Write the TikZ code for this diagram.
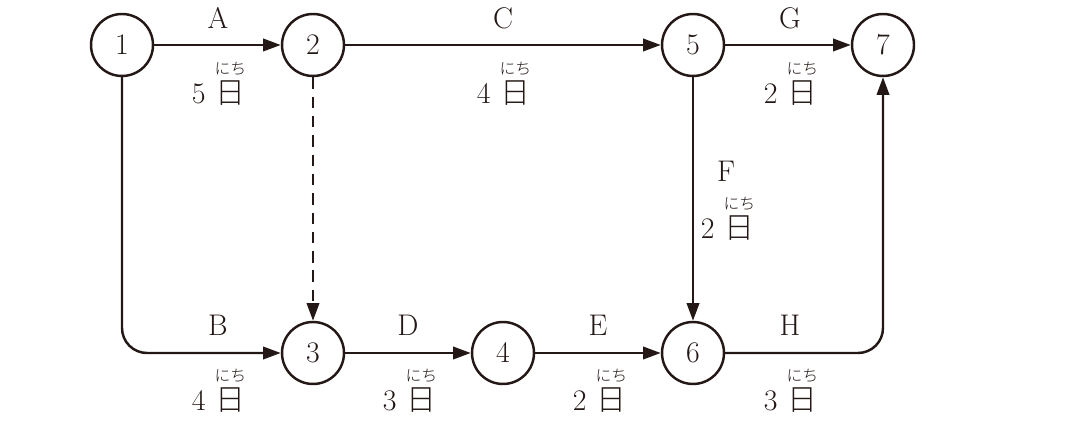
\documentclass[tikz,border=0pt]{standalone}
\usepackage{fontspec}
\newfontfamily\jpfont{Noto Sans CJK JP Light}
\usetikzlibrary{arrows.meta}
\definecolor{ink}{HTML}{231815}
% 日 with its reading above
\newcommand{\nichi}{\begin{tabular}[b]{@{}c@{}}{\jpfont\fontsize{9}{9}\selectfont にち}\\[-3pt]{\jpfont 日}\end{tabular}}
\tikzset{
    evt/.style={circle, draw=ink, line width=1.4pt, minimum size=1.24cm, inner sep=0pt, text=ink},
    act/.style={draw=ink, line width=1.4pt, -{Triangle[length=10pt,width=7pt]}},
    dum/.style={act, dash pattern=on 6.5pt off 4.5pt},
    lbl/.style={text=ink, inner sep=0pt},
    days/.style={lbl, anchor=base},
}
\begin{document}
\begin{tikzpicture}[x=0.02cm, y=-0.02cm, font=\fontsize{17}{20}\selectfont]
    \useasboundingbox (0,0) rectangle (1088,448);

    % 結合点
    \node[evt] (n1) at (122,45) {1};
    \node[evt] (n2) at (313,45) {2};
    \node[evt] (n5) at (693,45) {5};
    \node[evt] (n7) at (883,45) {7};
    \node[evt] (n3) at (313,353) {3};
    \node[evt] (n4) at (503,353) {4};
    \node[evt] (n6) at (693,353) {6};

    % 作業
    \draw[act] (n1) -- (n2);
    \draw[act] (n2) -- (n5);
    \draw[act] (n5) -- (n7);
    \draw[act] (n3) -- (n4);
    \draw[act] (n4) -- (n6);
    \draw[act] (n5) -- (n6);
    \draw[act, rounded corners=0.5cm] (n1) |- (n3);
    \draw[act, rounded corners=0.5cm] (n6) -| (n7);
    \draw[dum] (n2) -- (n3);

    % 作業名と日数
    \node[lbl] (la) at (218,18) {A};
    \node[days] (da) at (219,104) {5 \nichi};
    \node[lbl] (lc) at (503,18) {C};
    \node[days] (dc) at (504,104) {4 \nichi};
    \node[lbl] (lg) at (790,18) {G};
    \node[days] (dg) at (791,104) {2 \nichi};
    \node[lbl] (lf) at (726,171) {F};
    \node[days] (df) at (728,239) {2 \nichi};
    \node[lbl] (lb) at (218,325) {B};
    \node[days] (db) at (219,411) {4 \nichi};
    \node[lbl] (ld) at (408,325) {D};
    \node[days] (dd) at (410,411) {3 \nichi};
    \node[lbl] (le) at (598,325) {E};
    \node[days] (de) at (600,411) {2 \nichi};
    \node[lbl] (lh) at (790,325) {H};
    \node[days] (dh) at (791,411) {3 \nichi};
\end{tikzpicture}
\end{document}
